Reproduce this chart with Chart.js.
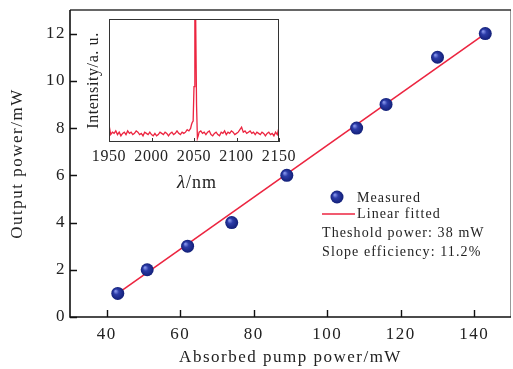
<!DOCTYPE html>
<html>
<head>
<meta charset="utf-8">
<script src="https://cdn.jsdelivr.net/npm/chart.js@4/dist/chart.umd.min.js"></script>
<style>
html,body{margin:0;padding:0;background:#fff;}
#wrap{position:relative;width:513px;height:369px;}
#main{position:absolute;left:0;top:0;}
#inset{position:absolute;left:75px;top:12px;}
</style>
</head>
<body>
<div id="wrap">
<canvas id="main" width="513" height="369"></canvas>
<canvas id="inset" width="230" height="185"></canvas>
</div>
<script>
// ---- main chart data ----
const xTickVals = [40, 60, 80, 100, 120, 140];
const yTickVals = [0, 2, 4, 6, 8, 10, 12];
const pumpPower = [43, 51, 62, 74, 89, 108, 116, 130, 143];
const outputPower = [1, 2, 3, 4, 6, 8, 9, 11, 12];
const fitX = [43, 143];
const fitY = [1.0, 12.0];
const legendTexts = ["Measured", "Linear fitted", "Theshold power: 38 mW", "Slope efficiency: 11.2%"];

// ---- inset data ----
const insetTickVals = [1950, 2000, 2050, 2100, 2150];
const wavelength = [1950,1952,1954,1956,1958,1960,1962,1964,1966,1968,1970,1972,1974,1976,1978,1980,1982,1984,1986,1988,1990,1992,1994,1996,1998,2000,2002,2004,2006,2008,2010,2012,2014,2016,2018,2020,2022,2024,2026,2028,2030,2032,2034,2036,2038,2040,2042,2044,2046,2047,2048,2049,2050,2051,2052,2053,2054,2055,2056,2058,2060,2062,2064,2066,2068,2070,2072,2074,2076,2078,2080,2082,2084,2086,2088,2090,2092,2094,2096,2098,2100,2102,2104,2106,2108,2110,2112,2114,2116,2118,2120,2122,2124,2126,2128,2130,2132,2134,2136,2138,2140,2142,2144,2146,2148,2150];
const intensity = [0.14,0.06,0.08,0.07,0.09,0.06,0.08,0.05,0.07,0.08,0.06,0.09,0.07,0.08,0.06,0.07,0.09,0.08,0.06,0.07,0.05,0.08,0.07,0.06,0.08,0.06,0.05,0.07,0.05,0.06,0.08,0.07,0.06,0.08,0.07,0.05,0.07,0.08,0.06,0.07,0.09,0.07,0.06,0.08,0.07,0.08,0.10,0.09,0.11,0.14,0.16,0.17,0.45,0.99,0.99,0.30,0.03,0.05,0.08,0.09,0.07,0.08,0.06,0.08,0.09,0.06,0.05,0.07,0.08,0.06,0.05,0.08,0.07,0.09,0.06,0.08,0.07,0.09,0.08,0.06,0.07,0.08,0.10,0.12,0.08,0.09,0.07,0.08,0.09,0.07,0.08,0.06,0.08,0.07,0.06,0.08,0.07,0.05,0.07,0.08,0.06,0.07,0.05,0.08,0.06,0.12];

const SERIF = '"Liberation Serif", "DejaVu Serif", serif';
const RED = '#ec2540';

function ballFill(ctx, x, y, r) {
  const g = ctx.createRadialGradient(x - r*0.35, y - r*0.35, r*0.1, x, y, r);
  g.addColorStop(0, '#7f8ee6');
  g.addColorStop(0.35, '#2c3ca8');
  g.addColorStop(1, '#121f78');
  return g;
}

function pointBg(c) {
  const chart = c.chart;
  if (!chart.chartArea || !c.parsed) return '#1c2c94';
  const x = chart.scales.x.getPixelForValue(c.parsed.x);
  const y = chart.scales.y.getPixelForValue(c.parsed.y);
  return ballFill(chart.ctx, x, y, 6.5);
}

function noPad(s) { s.paddingTop = 0; s.paddingBottom = 0; s.paddingLeft = 0; s.paddingRight = 0; }

function drawTicks(chart, scaleX, scaleY, len, color, lw) {
  const ctx = chart.ctx, a = chart.chartArea;
  ctx.save();
  ctx.strokeStyle = color; ctx.lineWidth = lw;
  ctx.beginPath();
  if (scaleX) scaleX.ticks.forEach(t => {
    const px = Math.round(scaleX.getPixelForValue(t.value)) + 0.5;
    ctx.moveTo(px, a.bottom); ctx.lineTo(px, a.bottom - len);
  });
  if (scaleY) scaleY.ticks.forEach(t => {
    const py = Math.round(scaleY.getPixelForValue(t.value)) + 0.5;
    ctx.moveTo(a.left, py); ctx.lineTo(a.left + len, py);
  });
  ctx.stroke();
  ctx.restore();
}

const spacingPlugin = (sp) => ({
  id: 'spacing',
  beforeInit(chart) { chart.ctx.letterSpacing = sp; },
  beforeUpdate(chart) { chart.ctx.letterSpacing = sp; },
  beforeDraw(chart) { chart.ctx.letterSpacing = sp; }
});

const mainPlugin = {
  id: 'mainDeco',
  afterDraw(chart) {
    const ctx = chart.ctx, a = chart.chartArea;
    // frame
    ctx.save();
    ctx.strokeStyle = '#999'; ctx.lineWidth = 1;
    ctx.beginPath(); ctx.moveTo(a.right - 0.5, a.top); ctx.lineTo(a.right - 0.5, a.bottom); ctx.stroke();
    ctx.strokeStyle = '#333'; ctx.lineWidth = 1.6;
    ctx.beginPath(); ctx.moveTo(a.left, a.top); ctx.lineTo(a.right, a.top); ctx.stroke();
    ctx.strokeStyle = '#111'; ctx.lineWidth = 1.6;
    ctx.beginPath(); ctx.moveTo(a.left, a.top); ctx.lineTo(a.left, a.bottom); ctx.lineTo(a.right, a.bottom); ctx.stroke();
    ctx.restore();
    drawTicks(chart, chart.scales.x, chart.scales.y, 7, '#111', 1.4);
    // legend
    ctx.save();
    const lx = a.left + 252, ly = a.top + 187;
    ctx.fillStyle = ballFill(ctx, lx + 15, ly, 6.5);
    ctx.beginPath(); ctx.arc(lx + 15, ly, 6.5, 0, Math.PI*2); ctx.fill();
    ctx.strokeStyle = RED; ctx.lineWidth = 1.6;
    ctx.beginPath(); ctx.moveTo(lx, ly + 17); ctx.lineTo(lx + 33, ly + 17); ctx.stroke();
    ctx.fillStyle = '#222';
    ctx.font = '14px ' + SERIF;
    ctx.letterSpacing = '1.1px';
    ctx.textBaseline = 'middle'; ctx.textAlign = 'left';
    ctx.fillText(legendTexts[0], lx + 35, ly + 1);
    ctx.fillText(legendTexts[1], lx + 35, ly + 17);
    ctx.fillText(legendTexts[2], lx, ly + 36);
    ctx.fillText(legendTexts[3], lx, ly + 55);
    ctx.restore();
  }
};

new Chart(document.getElementById('main'), {
  type: 'scatter',
  data: {
    datasets: [
      {
        type: 'line',
        label: 'Linear fitted',
        data: fitX.map((x, i) => ({x: x, y: fitY[i]})),
        borderColor: RED, borderWidth: 1.6, pointRadius: 0, fill: false, order: 2
      },
      {
        label: 'Measured',
        data: pumpPower.map((x, i) => ({x: x, y: outputPower[i]})),
        pointRadius: 6.5, pointHoverRadius: 6.5,
        pointBackgroundColor: pointBg, pointBorderWidth: 0, borderWidth: 0, order: 1
      }
    ]
  },
  options: {
    responsive: false, animation: false,
    layout: {autoPadding: false, padding: {top: 10, right: 2, left: 0, bottom: 0}},
    plugins: {legend: {display: false}, tooltip: {enabled: false}},
    scales: {
      x: {
        type: 'linear', min: 30, max: 150,
        afterBuildTicks: s => { s.ticks = xTickVals.map(v => ({value: v})); },
        afterFit: s => { s.height = 52; noPad(s); },
        grid: {display: false, drawTicks: false},
        border: {display: false},
        ticks: {color: '#222', font: {family: SERIF, size: 17}, padding: 7, maxRotation: 0},
        title: {display: true, text: 'Absorbed pump power/mW', color: '#222', font: {family: SERIF, size: 17}, padding: {top: 0, bottom: 1}}
      },
      y: {
        min: 0, max: 13,
        afterBuildTicks: s => { s.ticks = yTickVals.map(v => ({value: v})); },
        afterFit: s => { s.width = 70; noPad(s); },
        grid: {display: false, drawTicks: false},
        border: {display: false},
        ticks: {color: '#222', font: {family: SERIF, size: 17}, padding: 4},
        title: {display: true, text: 'Output power/mW', color: '#222', font: {family: SERIF, size: 17}, padding: {top: 7, bottom: 0}}
      }
    }
  },
  plugins: [spacingPlugin('1.5px'), mainPlugin]
});

const insetPlugin = {
  id: 'insetDeco',
  afterDraw(chart) {
    const ctx = chart.ctx, a = chart.chartArea;
    ctx.save();
    ctx.strokeStyle = '#333'; ctx.lineWidth = 1;
    ctx.strokeRect(a.left + 0.5, a.top + 0.5, a.right - a.left - 1, a.bottom - a.top - 1);
    ctx.restore();
    drawTicks(chart, chart.scales.x, null, 4, '#333', 1);
    // lambda/nm title
    ctx.save();
    ctx.fillStyle = '#222'; ctx.textBaseline = 'middle';
    ctx.letterSpacing = '1px';
    const cx = (a.left + a.right) / 2 + 3, cy = a.bottom + 41;
    ctx.font = 'italic 19px ' + SERIF;
    const w1 = ctx.measureText('λ').width;
    ctx.font = '18px ' + SERIF;
    const w2 = ctx.measureText('/nm').width;
    const x0 = cx - (w1 + w2) / 2;
    ctx.font = 'italic 19px ' + SERIF;
    ctx.fillText('λ', x0, cy);
    ctx.font = '18px ' + SERIF;
    ctx.fillText('/nm', x0 + w1, cy);
    ctx.restore();
  }
};

new Chart(document.getElementById('inset'), {
  type: 'line',
  data: {
    datasets: [{
      data: wavelength.map((x, i) => ({x: x, y: intensity[i]})),
      borderColor: RED, borderWidth: 1.3, pointRadius: 0, fill: false, tension: 0
    }]
  },
  options: {
    responsive: false, animation: false,
    layout: {autoPadding: false, padding: {top: 7, right: 26, left: 0, bottom: 0}},
    plugins: {legend: {display: false}, tooltip: {enabled: false}},
    scales: {
      x: {
        type: 'linear', min: 1950, max: 2150,
        afterBuildTicks: s => { s.ticks = insetTickVals.map(v => ({value: v})); },
        afterFit: s => { s.height = 55; noPad(s); },
        grid: {display: false, drawTicks: false},
        border: {display: false},
        ticks: {color: '#222', font: {family: SERIF, size: 16}, padding: 5, maxRotation: 0, autoSkip: false,
                callback: v => String(v)}
      },
      y: {
        min: 0, max: 1,
        afterFit: s => { s.width = 34; noPad(s); },
        grid: {display: false, drawTicks: false},
        border: {display: false},
        ticks: {display: false},
        title: {display: true, text: 'Intensity/a. u.', color: '#222', font: {family: SERIF, size: 16}, padding: {top: 9, bottom: 0}}
      }
    }
  },
  plugins: [spacingPlugin('0.6px'), insetPlugin]
});
</script>
</body>
</html>
